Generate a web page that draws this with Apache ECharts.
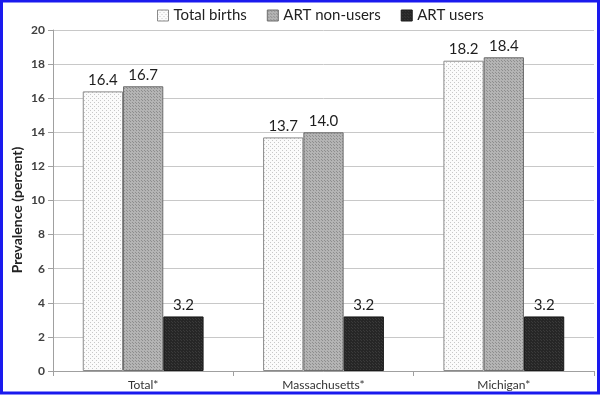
<!DOCTYPE html>
<html>
<head>
<meta charset="utf-8">
<script src="https://cdn.jsdelivr.net/npm/echarts@6/dist/echarts.min.js"></script>
<style>html,body{margin:0;padding:0;background:#fff}#c{width:600px;height:395px}</style>
</head>
<body>
<div id="c"></div>
<script>
var categories = ['Total*', 'Massachusetts*', 'Michigan*'];
var seriesNames = ['Total births', 'ART non-users', 'ART users'];
var totalBirths = [16.4, 13.7, 18.2];
var artNonUsers = [16.7, 14.0, 18.4];
var artUsers = [3.2, 3.2, 3.2];
var yTicks = [0, 2, 4, 6, 8, 10, 12, 14, 16, 18, 20];
var yAxisTitle = 'Prevalence (percent)';

function makePattern(bg, dot, step) {
  var c = document.createElement('canvas');
  c.width = step; c.height = step;
  var g = c.getContext('2d');
  g.fillStyle = bg; g.fillRect(0, 0, step, step);
  g.fillStyle = dot;
  g.fillRect(0, 0, 1, 1);
  g.fillRect(Math.floor(step/2), Math.floor(step/2), 1, 1);
  return { image: c, repeat: 'repeat' };
}
var fills = [
  makePattern('#fbfbfb', '#c8c8c8', 4),
  makePattern('#b4b4b4', '#8e8e8e', 3),
  makePattern('#262626', '#3a3a3a', 3)
];
var borders = ['#8a8a8a', '#6e6e6e', '#1a1a1a'];
var dataSets = [totalBirths, artNonUsers, artUsers];
var font = 'Lato, "Open Sans", sans-serif';

var chart = echarts.init(document.getElementById('c'), null, {renderer: 'canvas'});
var series = seriesNames.map(function (n, i) {
  return {
    name: n,
    type: 'bar',
    data: dataSets[i],
    barGap: '0%',
    barCategoryGap: '33%',
    itemStyle: { color: fills[i], borderColor: borders[i], borderWidth: 1 },
    label: {
      show: true, position: 'top', distance: 4,
      formatter: function (p) { return p.value.toFixed(1); },
      fontFamily: font, fontSize: 15, color: '#1e1e1e'
    }
  };
});
chart.setOption({
  animation: false,
  textStyle: { fontFamily: font },
  legend: {
    top: 3, left: 152, icon: 'rect',
    itemWidth: 11, itemHeight: 11, itemGap: 20,
    textStyle: { fontFamily: font, fontSize: 15, color: '#222' },
    data: seriesNames.map(function (n, i) {
      return { name: n, icon: 'rect', itemStyle: { color: fills[i], borderColor: borders[i], borderWidth: 1 } };
    })
  },
  grid: { left: 53, right: 6, top: 30, bottom: 24, containLabel: false },
  xAxis: {
    type: 'category', data: categories,
    axisLine: { lineStyle: { color: '#a0a0a0' } },
    axisTick: { show: true, length: 5, lineStyle: { color: '#a0a0a0' } },
    axisLabel: { fontFamily: font, fontSize: 12, color: '#333', margin: 8 }
  },
  yAxis: {
    type: 'value', min: 0, max: 20, interval: 2,
    axisLine: { show: true, lineStyle: { color: '#a0a0a0' } },
    axisTick: { show: true, length: 5, lineStyle: { color: '#a0a0a0' } },
    axisLabel: { fontFamily: font, fontSize: 12, color: '#404040', fontWeight: 'bold', margin: 8,
      formatter: function (v) { return yTicks.indexOf(v) >= 0 ? String(v) : ''; } },
    splitLine: { lineStyle: { color: '#c8c8c8' } }
  },
  series: series,
  graphic: [{
    type: 'text', silent: true,
    x: 17, y: 210, rotation: Math.PI / 2,
    style: { text: yAxisTitle, font: 'bold 14px Lato, sans-serif', fill: '#222', align: 'center', verticalAlign: 'middle' }
  }, {
    type: 'rect', silent: true, z: 100,
    shape: { x: 1.5, y: 1, width: 597, height: 392 },
    style: { fill: 'none', stroke: '#1a1aee', lineWidth: 3 }
  }]
});
</script>
</body>
</html>
